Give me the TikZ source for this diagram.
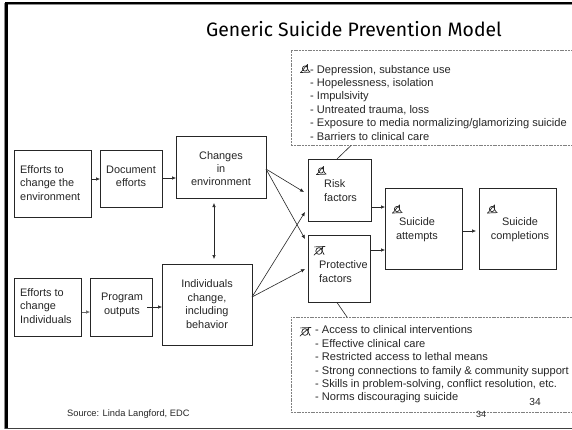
\documentclass[tikz,border=0pt]{standalone}
\usepackage{fontspec}
\setmainfont{Liberation Sans}
\newfontfamily\titlefont{Fira Sans}
\usetikzlibrary{arrows.meta}
\tikzset{
  boxa/.style={draw=black!85,line width=0.9pt,fill=white,inner sep=0pt},
  lbl/.style={font=\fontsize{10.9}{13.4}\selectfont,align=center,inner sep=0pt,text=black!85},
  lbll/.style={font=\fontsize{10.9}{13.4}\selectfont,align=left,inner sep=0pt,text=black!85},
  lst/.style={font=\fontsize{11.1}{13.4}\selectfont,align=left,inner sep=0pt,anchor=north west,text=black!85},
  flow/.style={draw=black!85,line width=0.6pt,-{Latex[length=4pt,width=3.6pt]}},
  dashbox/.style={draw=black!50,line width=0.9pt,dash pattern=on 2pt off 0.8pt,fill=white,inner sep=0pt},
  link/.style={draw=black!85,line width=0.6pt},
  sym/.style={draw=black!85,line width=0.7pt,line cap=round,line join=round}
}
\newcommand{\boxat}[5]{\node[boxa,minimum width=#3 pt-#2 pt,minimum height=#5 pt-#4 pt,anchor=north west] (#1) at (#2,#4) {};}
\newcommand{\risksym}[2]{\begin{scope}[shift={(#1,#2)}]
\draw[sym] (0,0) circle[x radius=2.6,y radius=2.6];
\draw[sym] (-4.5,4) .. controls (-2,2) and (0,-2) .. (2.5,-4);
\draw[sym] (-4.5,4) -- (5,3.6);
\draw[sym] (2.5,-4) .. controls (2,-1) and (2,1) .. (5,3.6);
\end{scope}}
\newcommand{\protsym}[2]{\begin{scope}[shift={(#1,#2)}]
\draw[sym] (0,0.5) circle[x radius=3.2,y radius=3.4];
\draw[sym] (-5,4.5) -- (4.5,-4);
\draw[sym] (-4.5,-3.6) -- (6,-4);
\draw[sym] (3.6,-3.6) .. controls (2.6,-1) and (3,2) .. (5,4);
\end{scope}}
\begin{document}
\begin{tikzpicture}[x=1pt,y=-1pt]
\useasboundingbox (0,0) rectangle (572,429);
\fill[white] (0,0) rectangle (572,429);
% slide frame
\fill[black!45] (4,3) rectangle (5.5,429);
\fill[black!45] (5,4) rectangle (572,5);
\fill[black] (5,2) rectangle (572,4);
\fill[black] (5,2) rectangle (7.5,429);
\fill[black!75] (5,427.7) rectangle (572,429);
% title
\node[font=\titlefont\fontsize{19.4}{22}\selectfont,anchor=center,inner sep=0pt] (title) at (354,29) {Generic Suicide Prevention Model};
% boxes
\boxat{effenv}{14}{90.5}{150}{217}
\boxat{doc}{100}{162}{150}{207}
\boxat{chg}{176}{266}{136}{198}
\boxat{effind}{14}{81}{278}{336}
\boxat{prog}{90}{152}{278}{336}
\boxat{ind}{162}{252}{264}{345}
\boxat{risk}{308}{370.5}{159}{221}
\boxat{prot}{308}{370}{235}{302}
\boxat{att}{385}{461.5}{188}{269}
\boxat{comp}{479}{556}{188}{269}
% dashed boxes and their links
\node[dashbox,minimum width=281pt,minimum height=95pt,anchor=north west] (top) at (290.5,50) {};
\node[dashbox,minimum width=282pt,minimum height=95pt,anchor=north west] (bot) at (290.5,317) {};
\coordinate (ta) at (351,145.5);
\coordinate (tb) at (337,159);
\coordinate (ba) at (337,302.5);
\coordinate (bb) at (347,317);
\draw[link] (ta) -- (tb);
\draw[link] (ba) -- (bb);
% box labels
\node[lbll,anchor=west] at (20,183) {Efforts to\\change the\\environment};
\node[lbl] at (131,176) {Document\\efforts};
\node[lbl] at (221,168.5) {Changes\\in\\environment};
\node[lbll,anchor=west] at (20,306) {Efforts to\\change\\Individuals};
\node[lbl] at (122,305) {Program\\outputs};
\node[lbl] at (207,304) {Individuals\\change,\\including\\behavior};
\node[lbll,anchor=west] at (324,190.5) {Risk\\factors};
\node[lbll,anchor=west] at (319,271.5) {Protective\\factors};
\node[lbl] at (417,229.5) {Suicide\\attempts};
\node[lbl] at (520,229.5) {Suicide\\completions};
% lists
\node[lst,anchor=west] at (310,102.7) {- Depression, substance use\\- Hopelessness, isolation\\- Impulsivity\\- Untreated trauma, loss\\- Exposure to media normalizing/glamorizing suicide\\- Barriers to clinical care};
\node[lst,anchor=west] at (315,364.5) {- Access to clinical interventions\\- Effective clinical care\\- Restricted access to lethal means\\- Strong connections to family \& community support\\- Skills in problem-solving, conflict resolution, etc.\\- Norms discouraging suicide};
% symbols
\risksym{305}{68.5}
\risksym{321}{170.5}
\risksym{397}{209}
\risksym{492}{209}
\protsym{319}{250.5}
\protsym{305}{331.5}
% arrows
\draw[flow] (effenv.east |- 0,179) -- (doc.west |- 0,179);
\draw[flow] (doc.east |- 0,178) -- (chg.west |- 0,178);
\draw[flow,draw=black!60] (effind.east |- 0,312) -- (prog.west |- 0,312);
\draw[flow] (147,307) -- (ind.west |- 0,307);
\coordinate (chgout) at (266,169);
\coordinate (indout) at (252,297);
\coordinate (riskin) at (304,192);
\coordinate (riskin2) at (305,212);
\coordinate (protin) at (305,239);
\coordinate (protin2) at (305,269);
\draw[flow] (chgout) -- (riskin);
\draw[flow] (chgout) -- (protin);
\draw[flow] (indout) -- (riskin2);
\draw[flow] (indout) -- (protin2);
\draw[flow] (risk.east |- 0,207) -- (att.west |- 0,207);
\draw[flow] (prot.east |- 0,250) -- (att.west |- 0,250);
\draw[flow] (att.east |- 0,231) -- (476,231);
\draw[flow,{Latex[length=4pt,width=3.6pt]}-{Latex[length=4pt,width=3.6pt]}] (214,203) -- (214,259);
% footer
\node[font=\fontsize{9.3}{11}\selectfont,inner sep=0pt,anchor=west,text=black!85] (src) at (67,414) {Source: Linda Langford, EDC};
\node[font=\fontsize{10.2}{12}\selectfont,inner sep=0pt,text=black!85] (pa) at (535,402) {34};
\node[font=\fontsize{9}{11}\selectfont,inner sep=0pt,text=black!85] (pb) at (481,414) {34};
\end{tikzpicture}
\end{document}
